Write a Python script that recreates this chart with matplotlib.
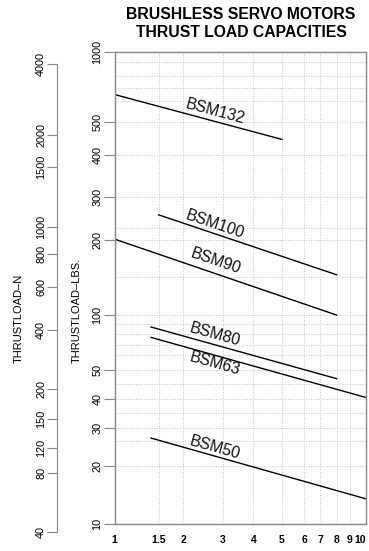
import numpy as np
import matplotlib
matplotlib.use('Agg')
import matplotlib.pyplot as plt

plt.rcParams['font.family'] = ['Liberation Sans', 'DejaVu Sans']

""" ======================  Chart data ========================== """
# x axis values (speed multiplier) and labelled load levels
speedTicks = [1, 1.5, 2, 3, 4, 5, 6, 7, 8, 9, 10]
speedLabels = ['1', '1.5', '2', '3', '4', '5', '6', '7', '8', '9', '10']
lbsTicks = [10, 20, 30, 40, 50, 100, 200, 300, 400, 500, 1000]
lbsGrid = [25, 35, 45, 60, 70, 80, 90, 150, 250, 600, 700, 800, 900]
nTicks = [40, 80, 120, 150, 200, 400, 600, 800, 1000, 1500, 2000, 4000]

# motor curves: start / end points (speed, lbs)
motors = ['BSM132', 'BSM100', 'BSM90', 'BSM80', 'BSM63', 'BSM50']
motorX = [[1, 5], [1.5, 8], [1, 8], [1.4, 8], [1.4, 10], [1.4, 10]]
motorLbs = [[650, 445], [270, 153], [205, 100], [87, 47], [77, 40.5], [26, 13.5]]
labelX = 2.78
labelLbs = [548, 255, 170, 80, 54, 23.5]

""" ======================  Paper scales ========================== """
# the printed chart paper is not an exact log grid, so the scales follow it
xPaper = speedTicks
xFrac = [0, .175, .273, .430, .552, .665, .754, .818, .882, .935, 1]
yPaper = [10, 20, 25, 30, 35, 40, 45, 50, 60, 70, 80, 90, 100, 150, 200,
          250, 300, 400, 500, 600, 700, 800, 900, 1000]
yFrac = [0, .124, .177, .203, .235, .265, .296, .326, .358, .380, .402, .424,
         .443, .523, .601, .627, .694, .781, .852, .896, .923, .950, .978, 1]
nFrac = [0, .126, .181, .242, .306, .432, .525, .595, .653, .781, .849, 1]


def paperScale(vals, fracs):
    lv = np.log10(np.asarray(vals, float))
    fr = np.asarray(fracs, float)
    s0 = (fr[1] - fr[0]) / (lv[1] - lv[0])
    s1 = (fr[-1] - fr[-2]) / (lv[-1] - lv[-2])
    lv = np.r_[lv[0] - 20, lv, lv[-1] + 20]
    fr = np.r_[fr[0] - 20 * s0, fr, fr[-1] + 20 * s1]

    def fwd(v):
        v = np.clip(np.asarray(v, float), 1e-9, None)
        return np.interp(np.log10(v), lv, fr)

    def inv(f):
        return 10 ** np.interp(np.asarray(f, float), fr, lv)
    return fwd, inv


""" ======================  Figure ========================== """
W, H = 369, 551
fig = plt.figure(figsize=(W / 100, H / 100), dpi=100)
grey = '#888888'

ax = fig.add_axes([114.5 / W, (H - 524.3) / H, 251.8 / W, 472.3 / H])
ax.set_xscale('function', functions=paperScale(xPaper, xFrac))
ax.set_yscale('function', functions=paperScale(yPaper, yFrac))
ax.set_xlim(1, 10)
ax.set_ylim(10, 1000)

ax.set_xticks(speedTicks)
ax.set_xticklabels(speedLabels, fontsize=7.5, fontweight='bold')
ax.get_xticklabels()[-1].set_ha('right')
ax.set_xticks([], minor=True)
ax.set_yticks(lbsTicks)
ax.set_yticklabels([str(v) for v in lbsTicks], fontsize=7.8, rotation=90, va='center')
ax.set_yticks(lbsGrid, minor=True)
ax.yaxis.set_minor_formatter(plt.NullFormatter())
ax.tick_params(axis='x', length=0, pad=7.5)
ax.tick_params(axis='y', which='major', length=8, pad=0.6, color=grey)
ax.tick_params(axis='y', which='minor', length=0)
ax.grid(True, which='both', color='#c4c4c4', linestyle=':', linewidth=0.7)
for sp in ax.spines.values():
    sp.set_color(grey)
    sp.set_linewidth(1)

for i, name in enumerate(motors):
    ax.plot(motorX[i], motorLbs[i], color='black', linewidth=1.0)
    p = ax.transData.transform(np.column_stack([motorX[i], motorLbs[i]]))
    ang = np.degrees(np.arctan2(p[1, 1] - p[0, 1], p[1, 0] - p[0, 0]))
    ax.text(labelX, labelLbs[i], name, fontsize=11.4, rotation=ang,
            rotation_mode='anchor', ha='center', va='center', color='#111111')

# Newton axis on the far left
axN = fig.add_axes([57.3 / W, (H - 532.3) / H, 0.01, 468 / H])
axN.set_yscale('function', functions=paperScale(nTicks, nFrac))
axN.set_ylim(40, 4000)
axN.set_yticks(nTicks)
axN.set_yticklabels([str(v) for v in nTicks], fontsize=7.8, rotation=90, va='center')
axN.set_yticks([], minor=True)
axN.set_xticks([])
axN.tick_params(axis='y', length=7.5, pad=0.6, color=grey)
axN.patch.set_visible(False)
for k in ['top', 'right', 'bottom']:
    axN.spines[k].set_visible(False)
axN.spines['left'].set_color(grey)

fig.text(18.7 / W, 1 - 318 / H, 'THRUSTLOAD\u2013N', rotation=90,
         ha='center', va='center', fontsize=8)
fig.text(76.7 / W, 1 - 310.5 / H, 'THRUSTLOAD\u2013LBS.', rotation=90,
         ha='center', va='center', fontsize=8)
fig.text(241 / W, 1 - 23.5 / H, 'BRUSHLESS SERVO MOTORS\nTHRUST LOAD CAPACITIES',
         ha='center', va='center', fontsize=11.3, fontweight='bold', linespacing=1.2)

fig.savefig('out.png', dpi=100)
